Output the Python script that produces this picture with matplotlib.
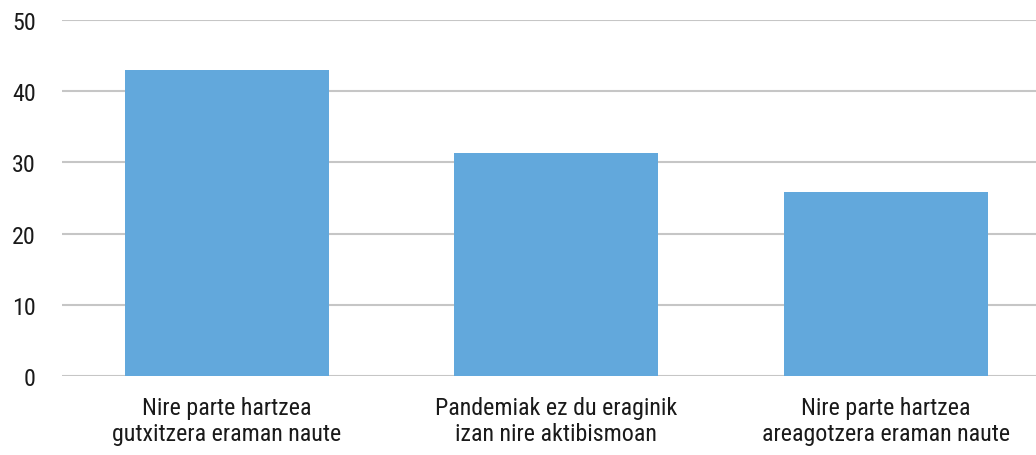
import matplotlib.pyplot as plt
from matplotlib import font_manager

# datuak
categories = ['Nire parte hartzea\ngutxitzera eraman naute',
              'Pandemiak ez du eraginik\nizan nire aktibismoan',
              'Nire parte hartzea\nareagotzera eraman naute']
values = [43.0, 31.3, 25.9]
yticks = [0, 10, 20, 30, 40, 50]

names = {f.name for f in font_manager.fontManager.ttflist}
fam = 'DejaVu Sans'
for cand in ['Roboto Condensed', 'Liberation Sans Narrow', 'Archivo Narrow', 'Asap Condensed']:
    if cand in names:
        fam = cand
        break
plt.rcParams['font.family'] = [fam, 'DejaVu Sans']

fig = plt.figure(figsize=(10.36, 4.56), dpi=100)
ax = fig.add_axes([62/1036, 79.3/456, 988.5/1036, 355.4/456])

x = range(len(categories))
ax.bar(x, values, width=0.62, color='#62a8dc', zorder=3)

ax.set_xlim(-0.5, 2.5)
ax.set_ylim(0, 50)
ax.set_yticks(yticks)
ax.set_xticks(list(x))
ax.set_xticklabels(categories, fontsize=17.3, color='#1a1a1a', linespacing=1.15)
ax.tick_params(axis='y', labelsize=17.3, labelcolor='#1a1a1a', length=0, pad=19)
ax.tick_params(axis='x', length=0, pad=14.5)
ax.yaxis.grid(True, color='#c6c6c6', linewidth=1.5, zorder=0)
for s in ax.spines.values():
    s.set_visible(False)

fig.savefig('out.png', dpi=100)
